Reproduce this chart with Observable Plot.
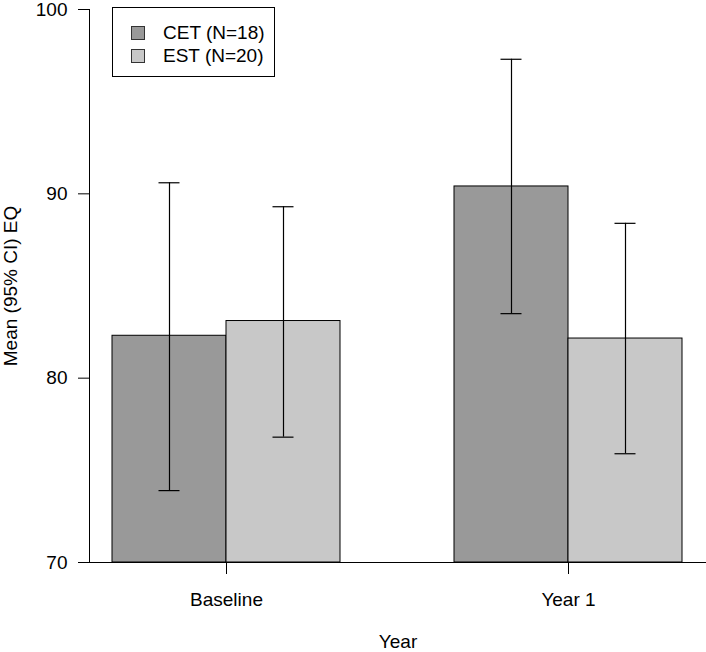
<!DOCTYPE html>
<html>
<head>
<meta charset="utf-8">
<script src="https://cdn.jsdelivr.net/npm/d3@7"></script>
<script src="https://cdn.jsdelivr.net/npm/@observablehq/plot@0.6"></script>
<style>
  html, body { margin: 0; padding: 0; background: #fff; }
  #wrap { position: relative; width: 706px; height: 652px; font-family: "Liberation Sans", Arial, Helvetica, sans-serif; }
  #legend { position: absolute; left: 112px; top: 7px; width: 163px; height: 70px; border: 1px solid #000; background: #fff; box-sizing: border-box; font-size: 19px; color: #000; }
  .item { position: absolute; left: 18px; height: 20px; display: flex; align-items: center; }
  .sw { width: 14px; height: 14px; border: 1px solid #333; box-sizing: border-box; margin-right: 18px; }
</style>
</head>
<body>
<div id="wrap"><div id="legend"></div></div>
<script>
const years = ["Baseline", "Year 1"];
const groups = ["CET (N=18)", "EST (N=20)"];
const colors = ["#999999", "#c8c8c8"];
const cetMean = [82.3, 90.4];
const cetLower = [73.9, 83.5];
const cetUpper = [90.6, 97.3];
const estMean = [83.1, 82.15];
const estLower = [76.8, 75.9];
const estUpper = [89.3, 88.4];
const yTicks = [70, 80, 90, 100];

const cet = years.map((y, i) => ({year: y, mean: cetMean[i], lower: cetLower[i], upper: cetUpper[i]}));
const est = years.map((y, i) => ({year: y, mean: estMean[i], lower: estLower[i], upper: estUpper[i]}));

const xRange = [112, 682];
const paddingInner = 1 / 3;
const step = (xRange[1] - xRange[0]) / (years.length - paddingInner);
const bw = step * (1 - paddingInner);
const half = bw / 2;
const capW = 21;
const capInset = (bw - capW) / 2;

const font = "'Liberation Sans', Arial, Helvetica, sans-serif";

const chart = Plot.plot({
  width: 706,
  height: 652,
  marginLeft: 89,
  marginRight: 0,
  marginTop: 9,
  marginBottom: 90,
  style: {fontFamily: font, fontSize: "19px", color: "#000", background: "#fff"},
  x: {type: "band", domain: years, range: xRange, paddingInner, paddingOuter: 0},
  y: {domain: [70, 100]},
  marks: [
    Plot.barY(cet, {x: "year", y1: 70, y2: "mean", fill: colors[0], stroke: "#000", strokeWidth: 1, insetRight: half}),
    Plot.barY(est, {x: "year", y1: 70, y2: "mean", fill: colors[1], stroke: "#000", strokeWidth: 1, insetLeft: half}),
    Plot.ruleX(cet, {x: "year", y1: "lower", y2: "upper", dx: -half / 2, stroke: "#000", strokeWidth: 1.2}),
    Plot.ruleX(est, {x: "year", y1: "lower", y2: "upper", dx: half / 2, stroke: "#000", strokeWidth: 1.2}),
    Plot.tickY(cet, {x: "year", y: "upper", dx: -half / 2, insetLeft: capInset, insetRight: capInset, stroke: "#000", strokeWidth: 1.2}),
    Plot.tickY(cet, {x: "year", y: "lower", dx: -half / 2, insetLeft: capInset, insetRight: capInset, stroke: "#000", strokeWidth: 1.2}),
    Plot.tickY(est, {x: "year", y: "upper", dx: half / 2, insetLeft: capInset, insetRight: capInset, stroke: "#000", strokeWidth: 1.2}),
    Plot.tickY(est, {x: "year", y: "lower", dx: half / 2, insetLeft: capInset, insetRight: capInset, stroke: "#000", strokeWidth: 1.2}),
    Plot.ruleY([70], {stroke: "#000", strokeWidth: 1}),
    Plot.frame({anchor: "left", stroke: "#000", strokeWidth: 1}),
    Plot.axisY({ticks: yTicks, tickSize: 11, tickPadding: 11, fontSize: 19, stroke: "#000", label: "Mean (95% CI) EQ", labelAnchor: "center", labelOffset: 86, labelArrow: "none"}),
    Plot.axisX({tickSize: 12, tickPadding: 17.5, fontSize: 19, stroke: "#000", label: "Year", labelAnchor: "center", labelOffset: 85, labelArrow: "none"})
  ]
});

const wrap = document.getElementById("wrap");
wrap.insertBefore(chart, wrap.firstChild);

const legend = document.getElementById("legend");
groups.forEach((g, i) => {
  const it = document.createElement("div");
  it.className = "item";
  it.style.top = (15 + i * 23) + "px";
  const sw = document.createElement("div");
  sw.className = "sw";
  sw.style.background = colors[i];
  const tx = document.createElement("span");
  tx.textContent = g;
  it.appendChild(sw);
  it.appendChild(tx);
  legend.appendChild(it);
});
</script>
</body>
</html>
